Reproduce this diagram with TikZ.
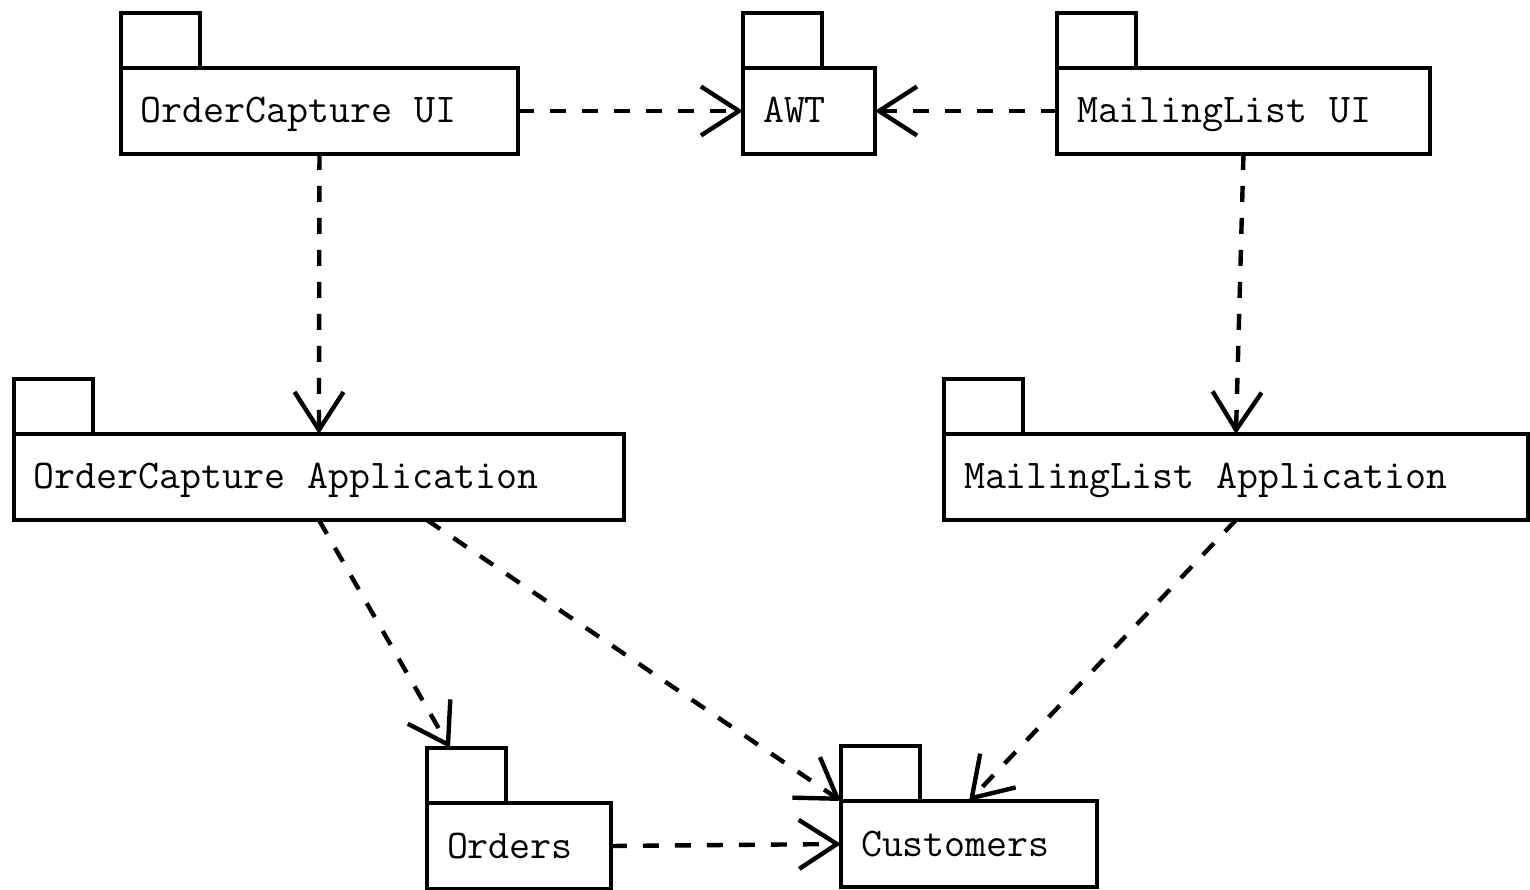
\documentclass[tikz,border=0pt]{standalone}
\usepackage{fontspec}
\usetikzlibrary{arrows.meta,calc}
% typewriter face for package names, with a full-width word space
\newcommand{\pkgfont}{\ttfamily\fontsize{23.2pt}{25pt}\selectfont}
\newcommand{\widespace}{\spaceskip=0.525em\relax\xspaceskip=0.525em\relax}
\begin{document}
\begin{tikzpicture}[x=0.02cm,y=-0.02cm,
  pkg/.style={draw, line width=2.6pt, anchor=north west, outer sep=0pt,
    inner xsep=0.4cm, inner ysep=0pt, minimum height=1.72cm, align=left,
    text height=0.48cm, text depth=0cm, font={\pkgfont},
    execute at begin node=\widespace},
  tab/.style={draw, line width=2.6pt},
  dep/.style={line width=2.5pt, dash pattern=on 0.32cm off 0.32cm,
    -{Straight Barb[length=0.76cm,width=0.98cm]}}]

\fill[white] (0,0) rectangle (1530,889);
\useasboundingbox (0,0) rectangle (1530,889);

% package bodies
\node[pkg, text width=7.14cm]  (ocui)  at (121,68)  {OrderCapture UI};
\node[pkg, text width=1.84cm]  (awt)   at (743,68)  {AWT};
\node[pkg, text width=6.66cm]  (mlui)  at (1057,68) {MailingList UI};
\node[pkg, text width=11.40cm] (ocapp) at (14,434)  {OrderCapture Application};
\node[pkg, text width=10.88cm] (mlapp) at (944,434) {MailingList Application};
\node[pkg, text width=2.88cm]  (ord)   at (427,803) {Orders};
\node[pkg, text width=4.32cm]  (cust)  at (841,801) {Customers};

% package tabs
\foreach \p in {ocui,awt,mlui,ocapp,mlapp,ord,cust}
  \draw[tab] (\p.north west) rectangle ++(79,-55);

% dependencies
\draw[dep] (ocui.east) -- (awt.west);
\draw[dep] (mlui.west) -- (awt.east);
\draw[dep] (ocui.south) -- (ocapp.north);
\draw[dep] (mlui.south) -- (mlapp.north);
\draw[dep] (ocapp.south) -- ($(ord.north west)+(23,-55)$);
\draw[dep] ($(ocapp.south)+(108,0)$) -- (cust.north west);
\draw[dep] (mlapp.south) -- (cust.north);
\draw[dep] (ord.east) -- (cust.west);
\end{tikzpicture}
\end{document}
